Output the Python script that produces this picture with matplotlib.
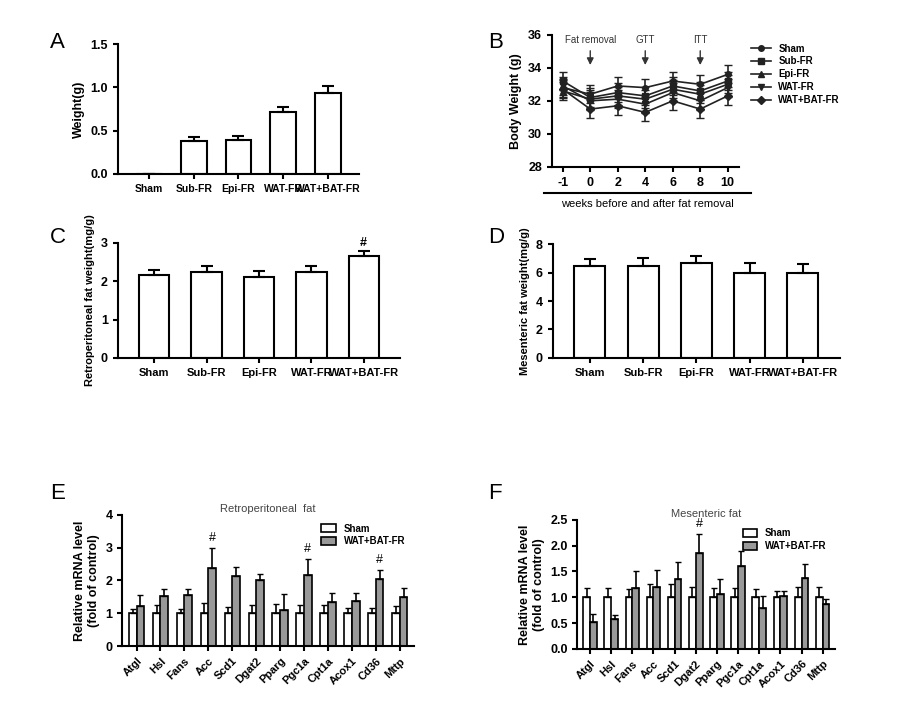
import numpy as np
import matplotlib
matplotlib.use("Agg")
import matplotlib.pyplot as plt
from matplotlib.lines import Line2D

plt.rcParams['font.family'] = ['Liberation Sans', 'DejaVu Sans']
plt.rcParams['font.weight'] = 'bold'
plt.rcParams['axes.labelweight'] = 'bold'

groups = ["Sham", "Sub-FR", "Epi-FR", "WAT-FR", "WAT+BAT-FR"]
a_vals = [0, 0.38, 0.39, 0.71, 0.94]
a_err = [0, 0.05, 0.05, 0.06, 0.07]

weeks = ["-1", "0", "2", "4", "6", "8", "10"]
bw = {
    "Sham": [32.8, 32.4, 32.9, 32.8, 33.2, 33.0, 33.6],
    "Sub-FR": [33.2, 32.2, 32.5, 32.3, 32.9, 32.6, 33.2],
    "Epi-FR": [32.6, 32.1, 32.3, 32.1, 32.7, 32.4, 33.0],
    "WAT-FR": [32.9, 32.0, 32.1, 31.8, 32.5, 32.0, 32.8],
    "WAT+BAT-FR": [32.7, 31.5, 31.7, 31.3, 32.0, 31.5, 32.3],
}
bw_err = 0.55
b_markers = ["o", "s", "^", "v", "D"]

c_vals = [2.15, 2.25, 2.12, 2.25, 2.65]
c_err = [0.15, 0.15, 0.15, 0.14, 0.14]
d_vals = [6.45, 6.5, 6.7, 6.0, 6.0]
d_err = [0.5, 0.5, 0.5, 0.7, 0.6]

genes = ["Atgl", "Hsl", "Fans", "Acc", "Scd1", "Dgat2", "Pparg", "Pgc1a",
         "Cpt1a", "Acox1", "Cd36", "Mttp"]
e_sham_err = [0.12, 0.25, 0.12, 0.3, 0.18, 0.25, 0.27, 0.25, 0.25, 0.15, 0.15, 0.22]
e_fr = [1.22, 1.52, 1.57, 2.38, 2.13, 2.0, 1.1, 2.18, 1.35, 1.38, 2.03, 1.5]
e_fr_err = [0.35, 0.22, 0.18, 0.6, 0.27, 0.2, 0.5, 0.47, 0.27, 0.23, 0.28, 0.28]
f_sham_err = [0.17, 0.17, 0.15, 0.25, 0.25, 0.2, 0.17, 0.17, 0.15, 0.12, 0.2, 0.2]
f_fr = [0.53, 0.58, 1.18, 1.2, 1.35, 1.85, 1.07, 1.6, 0.8, 1.03, 1.38, 0.87]
f_fr_err = [0.15, 0.07, 0.32, 0.32, 0.33, 0.38, 0.28, 0.3, 0.22, 0.1, 0.26, 0.1]

fig = plt.figure(figsize=(9.12, 7.10), dpi=100)


def style(ax):
    for s in ("top", "right"):
        ax.spines[s].set_visible(False)
    for s in ("left", "bottom"):
        ax.spines[s].set_linewidth(1.5)
    ax.tick_params(width=1.5, labelsize=9)


def bars(ax, vals, err, ylim, yticks, ylabel):
    x = np.arange(len(vals))
    ax.bar(x, vals, width=0.58, color="white", edgecolor="black", lw=1.5)
    ax.errorbar(x, vals, yerr=[np.zeros(len(err)), err], fmt="none",
                ecolor="black", elinewidth=1.5, capsize=4, capthick=1.5)
    ax.set_xticks(x)
    ax.set_xticklabels(groups, fontsize=8)
    ax.set_xlim(-0.7, len(vals) - 0.3)
    ax.set_ylim(*ylim)
    ax.set_yticks(yticks)
    ax.set_ylabel(ylabel, fontsize=9)
    style(ax)
    ax.tick_params(axis="x", labelsize=8)


# A
axA = fig.add_axes([0.129, 0.755, 0.265, 0.183])
bars(axA, a_vals, a_err, (0, 1.5), [0, 0.5, 1.0, 1.5], "Weight(g)")
axA.set_yticklabels(["0.0", "0.5", "1.0", "1.5"])
axA.tick_params(axis="x", labelsize=7.5)

# B
axB = fig.add_axes([0.605, 0.765, 0.205, 0.186])
xb = np.arange(len(weeks))
handles = []
for (name, vals), m in zip(bw.items(), b_markers):
    axB.errorbar(xb, vals, yerr=bw_err, color="#222222", marker=m, ms=4,
                 lw=1.2, capsize=3)
    handles.append(Line2D([], [], color="#222222", marker=m, ms=4, lw=1.2, label=name))
axB.set_xticks(xb)
axB.set_xticklabels(weeks)
axB.set_xlim(-0.4, 6.4)
axB.set_ylim(28, 36)
axB.set_yticks([28, 30, 32, 34, 36])
axB.set_ylabel("Body Weight (g)", fontsize=9)
style(axB)
for xi, lab in [(1, "Fat removal"), (3, "GTT"), (5, "ITT")]:
    axB.annotate("", xy=(xi, 34.0), xytext=(xi, 35.2),
                 arrowprops=dict(arrowstyle="-|>", color="#333333", lw=1))
    axB.text(xi, 35.4, lab, ha="center", va="bottom", fontsize=7,
             fontweight="normal", color="#333333")
axB.legend(handles=handles, loc="upper left", bbox_to_anchor=(1.02, 1.0),
           frameon=False, fontsize=7, handlelength=2, labelspacing=0.3)
fig.add_artist(Line2D([0.596, 0.823], [0.728, 0.728], color="black", lw=1.5))
fig.text(0.71, 0.712, "weeks before and after fat removal", ha="center",
         va="center", fontsize=8, fontweight="normal")

# C
axC = fig.add_axes([0.129, 0.496, 0.31, 0.162])
bars(axC, c_vals, c_err, (0, 3), [0, 1, 2, 3], "Retroperitoneal fat weight(mg/g)")
axC.yaxis.label.set_size(8)
axC.text(4, c_vals[4] + c_err[4] + 0.05, "#", ha="center", va="bottom", fontsize=9)

# D
axD = fig.add_axes([0.606, 0.496, 0.315, 0.16])
bars(axD, d_vals, d_err, (0, 8), [0, 2, 4, 6, 8], "Mesenteric fat weight(mg/g)")
axD.yaxis.label.set_size(8)


def gene_panel(ax, sham_err, fr, fr_err, ylim, yticks, title, sig):
    x = np.arange(len(genes))
    w = 0.32
    sham = np.ones(len(genes))
    ax.bar(x - w / 2, sham, w, color="white", edgecolor="black", lw=1.2, label="Sham")
    ax.bar(x + w / 2, fr, w, color="#999999", edgecolor="black", lw=1.2,
           label="WAT+BAT-FR")
    ax.errorbar(x - w / 2, sham, yerr=[np.zeros(len(x)), sham_err], fmt="none",
                ecolor="black", elinewidth=1.2, capsize=2)
    ax.errorbar(x + w / 2, fr, yerr=[np.zeros(len(x)), fr_err], fmt="none",
                ecolor="black", elinewidth=1.2, capsize=2)
    for i in sig:
        ax.text(i + w / 2, fr[i] + fr_err[i] + 0.03 * ylim[1], "#", ha="center",
                va="bottom", fontsize=9, fontweight="normal")
    ax.set_xticks(x)
    ax.set_xticklabels(genes, rotation=45, ha="right", rotation_mode="anchor", fontsize=8)
    ax.set_xlim(-0.6, len(genes) - 0.4)
    ax.set_ylim(*ylim)
    ax.set_yticks(yticks)
    ax.set_ylabel("Relative mRNA level\n(fold of control)", fontsize=9)
    ax.set_title(title, fontsize=8, fontweight="normal", color="#444444", pad=2)
    ax.legend(loc="upper right", frameon=False, fontsize=7, handlelength=1.5,
              handleheight=0.8, labelspacing=0.3)
    style(ax)
    ax.tick_params(axis="x", labelsize=8)


axE = fig.add_axes([0.134, 0.09, 0.32, 0.185])
gene_panel(axE, e_sham_err, e_fr, e_fr_err, (0, 4), [0, 1, 2, 3, 4],
           "Retroperitoneal  fat", [3, 7, 10])

axF = fig.add_axes([0.633, 0.086, 0.283, 0.182])
gene_panel(axF, f_sham_err, f_fr, f_fr_err, (0, 2.5), [0, 0.5, 1.0, 1.5, 2.0, 2.5],
           "Mesenteric fat", [5])
axF.set_yticklabels(["0.0", "0.5", "1.0", "1.5", "2.0", "2.5"])

for lab, x, y in [("A", 0.055, 0.94), ("B", 0.535, 0.94), ("C", 0.055, 0.665),
                  ("D", 0.535, 0.665), ("E", 0.055, 0.305), ("F", 0.535, 0.305)]:
    fig.text(x, y, lab, fontsize=16, fontweight="normal", va="center")

fig.savefig("out.png", dpi=100, facecolor="white")
